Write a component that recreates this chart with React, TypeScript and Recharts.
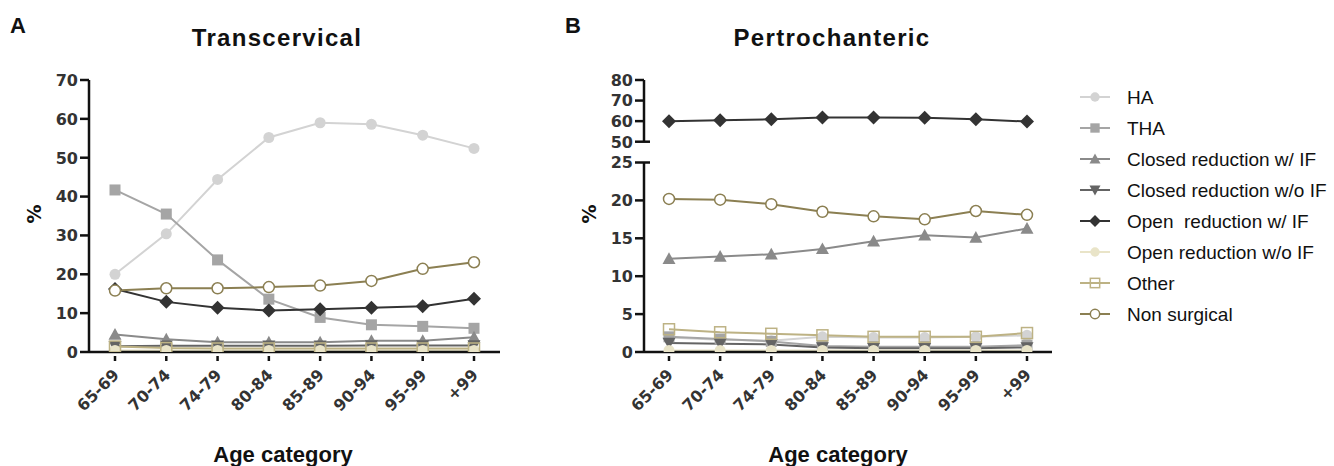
import React from 'react';
import { LineChart, Line, XAxis, YAxis } from 'recharts';

const categories = ['65-69', '70-74', '74-79', '80-84', '85-89', '90-94', '95-99', '+99'];

// Panel A – Transcervical (%)
const haA = [20.0, 30.4, 44.4, 55.2, 59.0, 58.6, 55.8, 52.4];
const thaA = [41.7, 35.5, 23.7, 13.6, 8.9, 7.0, 6.6, 6.1];
const crIfA = [4.5, 3.3, 2.5, 2.5, 2.5, 2.9, 2.9, 3.8];
const crNoIfA = [1.5, 1.6, 1.6, 1.6, 1.6, 1.7, 1.7, 1.7];
const orIfA = [16.2, 12.9, 11.4, 10.7, 11.0, 11.4, 11.8, 13.7];
const orNoIfA = [0.4, 0.4, 0.4, 0.4, 0.4, 0.4, 0.4, 0.4];
const otherA = [1.4, 1.0, 0.9, 0.9, 0.9, 0.9, 0.9, 0.9];
const nonSurgA = [15.8, 16.4, 16.4, 16.7, 17.1, 18.3, 21.4, 23.1];

// Panel B – Pertrochanteric (%)
const haB = [1.9, 1.6, 1.5, 2.0, 1.9, 1.9, 2.0, 2.2];
const thaB = [2.0, 1.7, 1.4, 0.8, 0.7, 0.7, 0.7, 0.9];
const crIfB = [12.3, 12.6, 12.9, 13.6, 14.6, 15.4, 15.1, 16.3];
const crNoIfB = [1.2, 1.1, 1.0, 0.6, 0.5, 0.5, 0.5, 0.6];
const orIfB = [60.0, 60.4, 60.9, 61.8, 61.8, 61.7, 60.9, 59.8];
const orNoIfB = [0.2, 0.2, 0.2, 0.2, 0.2, 0.2, 0.2, 0.2];
const otherB = [3.0, 2.6, 2.4, 2.2, 2.0, 2.0, 2.0, 2.5];
const nonSurgB = [20.2, 20.1, 19.5, 18.5, 17.9, 17.5, 18.6, 18.1];

const yTicksA = [0, 10, 20, 30, 40, 50, 60, 70];
const yTicksBTop = [50, 60, 70, 80];
const yTicksBBottom = [0, 5, 10, 15, 20, 25];

const seriesNames = [
  'HA',
  'THA',
  'Closed reduction w/ IF',
  'Closed reduction w/o IF',
  'Open  reduction w/ IF',
  'Open reduction w/o IF',
  'Other',
  'Non surgical',
];
const seriesKeys = ['ha', 'tha', 'crIf', 'crNoIf', 'orIf', 'orNoIf', 'other', 'nonSurg'];

const styles: Record<string, { color: string; shape: string; fill: string }> = {
  ha: { color: '#d3d3d3', shape: 'circle', fill: '#d3d3d3' },
  tha: { color: '#a5a5a5', shape: 'square', fill: '#a5a5a5' },
  crIf: { color: '#8a8a8a', shape: 'triUp', fill: '#8a8a8a' },
  crNoIf: { color: '#646464', shape: 'triDown', fill: '#646464' },
  orIf: { color: '#333333', shape: 'diamond', fill: '#333333' },
  orNoIf: { color: '#e9e4c8', shape: 'circle', fill: '#e9e4c8' },
  other: { color: '#bdb284', shape: 'square', fill: 'none' },
  nonSurg: { color: '#8b7f52', shape: 'circle', fill: '#ffffff' },
};

const build = (arrs: number[][]) =>
  categories.map((c, i) => {
    const row: Record<string, string | number> = { cat: c };
    seriesKeys.forEach((k, j) => {
      if (arrs[j]) row[k] = arrs[j][i];
    });
    return row;
  });

const dataA = build([haA, thaA, crIfA, crNoIfA, orIfA, orNoIfA, otherA, nonSurgA]);
const dataBBottom = build([haB, thaB, crIfB, crNoIfB, orIfB, orNoIfB, otherB, nonSurgB]);
const dataBTop = categories.map((c, i) => ({ cat: c, orIf: orIfB[i] }));

const BOLD_NUM = 'DejaVu Sans, sans-serif';
const ARIAL = 'Liberation Sans, Arial, sans-serif';

function Marker({ cx, cy, shape, color, fill, s = 1 }: any) {
  if (cx == null || cy == null || isNaN(cx) || isNaN(cy)) return null;
  const open = fill === 'none' || fill === '#ffffff';
  const sw = open ? 1.5 : 0;
  if (shape === 'circle') {
    return <circle cx={cx} cy={cy} r={5.5 * s} fill={fill} stroke={color} strokeWidth={sw} />;
  }
  if (shape === 'square') {
    const h = 5.5 * s;
    return <rect x={cx - h} y={cy - h} width={2 * h} height={2 * h} fill={fill} stroke={color} strokeWidth={sw} />;
  }
  if (shape === 'triUp') {
    const h = 6.5 * s;
    return <polygon points={`${cx},${cy - h} ${cx - h},${cy + h * 0.8} ${cx + h},${cy + h * 0.8}`} fill={fill} />;
  }
  if (shape === 'triDown') {
    const h = 6.5 * s;
    return <polygon points={`${cx},${cy + h} ${cx - h},${cy - h * 0.8} ${cx + h},${cy - h * 0.8}`} fill={fill} />;
  }
  const h = 7 * s;
  return <polygon points={`${cx},${cy - h} ${cx + h},${cy} ${cx},${cy + h} ${cx - h},${cy}`} fill={fill} />;
}

const makeDot = (key: string) => (props: any) => {
  const st = styles[key];
  return (
    <g key={`${key}-${props.index}`}>
      <Marker cx={props.cx} cy={props.cy} shape={st.shape} color={st.color} fill={st.fill} />
    </g>
  );
};

const XTick = (props: any) => {
  const { x, y, payload } = props;
  const ax = x + 5;
  const ay = y + 24;
  return (
    <g>
      <line x1={x} x2={x} y1={y + 4} y2={y + 9} stroke="#111" strokeWidth={2.5} />
      <text
        x={ax}
        y={ay}
        transform={`rotate(-45, ${ax}, ${ay})`}
        textAnchor="end"
        fontFamily={BOLD_NUM}
        fontWeight="bold"
        fontSize={16}
        fill="#333"
      >
        {payload.value}
      </text>
    </g>
  );
};

const makeYTick = (breakVal?: number) => (props: any) => {
  const { x, y, payload } = props;
  const isBreak = payload.value === breakVal;
  return (
    <g>
      <line x1={x - 9} x2={isBreak ? x + 6 : x} y1={y} y2={y} stroke="#111" strokeWidth={2.5} />
      <text x={x - 11} y={y} dy={5.8} textAnchor="end" fontFamily={BOLD_NUM} fontWeight="bold" fontSize={16} fill="#333">
        {payload.value}
      </text>
    </g>
  );
};

const axisLineStyle = { stroke: '#111', strokeWidth: 2.5 };

const renderLines = (keys: string[]) =>
  keys.map((k) => (
    <Line
      key={k}
      type="linear"
      dataKey={k}
      stroke={styles[k].color}
      strokeWidth={2}
      dot={makeDot(k)}
      activeDot={false}
      isAnimationActive={false}
    />
  ));

function Overlay() {
  const legendX = 1080;
  const legendY0 = 97;
  const step = 31;
  return (
    <svg width={1334} height={466} style={{ position: 'absolute', left: 0, top: 0 }}>
      <text x={10} y={33} fontFamily={ARIAL} fontWeight="bold" fontSize={22} fill="#111">A</text>
      <text x={565} y={33} fontFamily={ARIAL} fontWeight="bold" fontSize={22} fill="#111">B</text>
      <text x={277} y={46} textAnchor="middle" fontFamily={ARIAL} fontWeight="bold" fontSize={24} letterSpacing={1.3} fill="#111">
        Transcervical
      </text>
      <text x={832} y={46} textAnchor="middle" fontFamily={ARIAL} fontWeight="bold" fontSize={24} letterSpacing={1.3} fill="#111">
        Pertrochanteric
      </text>
      <text x={41} y={214} transform="rotate(-90, 41, 214)" textAnchor="middle" fontFamily={BOLD_NUM} fontWeight="bold" fontSize={19} fill="#111">
        %
      </text>
      <text x={596} y={214} transform="rotate(-90, 596, 214)" textAnchor="middle" fontFamily={BOLD_NUM} fontWeight="bold" fontSize={19} fill="#111">
        %
      </text>
      <text x={283} y={462} textAnchor="middle" fontFamily={ARIAL} fontWeight="bold" fontSize={22} fill="#111">
        Age category
      </text>
      <text x={838} y={462} textAnchor="middle" fontFamily={ARIAL} fontWeight="bold" fontSize={22} fill="#111">
        Age category
      </text>
      {seriesKeys.map((k, i) => {
        const cy = legendY0 + i * step;
        const st = styles[k];
        return (
          <g key={k}>
            <line x1={legendX} x2={legendX + 30} y1={cy} y2={cy} stroke={st.color} strokeWidth={2} />
            <Marker cx={legendX + 15} cy={cy} shape={st.shape} color={st.color} fill={st.fill} s={0.85} />
            <text x={1127} y={cy + 7} fontFamily={ARIAL} fontSize={19} fill="#111" style={{ whiteSpace: 'pre' }}>
              {seriesNames[i]}
            </text>
          </g>
        );
      })}
    </svg>
  );
}

export default function App() {
  return (
    <div style={{ position: 'absolute', left: 0, top: 0, width: 1334, height: 466, background: '#fff', overflow: 'hidden' }}>
      <Overlay />
      {/* Panel A */}
      <div style={{ position: 'absolute', left: 0, top: 0 }}>
        <LineChart width={520} height={466} data={dataA} margin={{ top: 80, right: 20, bottom: 0, left: 0 }}>
          <XAxis
            dataKey="cat"
            height={114}
            padding={{ left: 26, right: 26 }}
            axisLine={axisLineStyle}
            tickLine={false}
            tickSize={0}
            tickMargin={0}
            interval={0}
            tick={XTick}
          />
          <YAxis
            width={89}
            domain={[0, 70]}
            ticks={yTicksA}
            axisLine={axisLineStyle}
            tickLine={false}
            tickSize={0}
            tickMargin={0}
            interval={0}
            tick={makeYTick()}
            allowDataOverflow
          />
          {renderLines(seriesKeys)}
        </LineChart>
      </div>
      {/* Panel B – top segment */}
      <div style={{ position: 'absolute', left: 555, top: 0 }}>
        <LineChart width={497} height={150} data={dataBTop} margin={{ top: 80, right: 0, bottom: 8.3, left: 0 }}>
          <XAxis dataKey="cat" hide padding={{ left: 25, right: 25 }} />
          <YAxis
            width={89}
            domain={[50, 80]}
            ticks={yTicksBTop}
            axisLine={axisLineStyle}
            tickLine={false}
            tickSize={0}
            tickMargin={0}
            interval={0}
            tick={makeYTick(50)}
            allowDataOverflow
          />
          {renderLines(['orIf'])}
        </LineChart>
      </div>
      {/* Panel B – bottom segment */}
      <div style={{ position: 'absolute', left: 555, top: 0 }}>
        <LineChart width={497} height={466} data={dataBBottom} margin={{ top: 162.5, right: 0, bottom: 0, left: 0 }}>
          <XAxis
            dataKey="cat"
            height={114}
            padding={{ left: 25, right: 25 }}
            axisLine={axisLineStyle}
            tickLine={false}
            tickSize={0}
            tickMargin={0}
            interval={0}
            tick={XTick}
          />
          <YAxis
            width={89}
            domain={[0, 25]}
            ticks={yTicksBBottom}
            axisLine={axisLineStyle}
            tickLine={false}
            tickSize={0}
            tickMargin={0}
            interval={0}
            tick={makeYTick(25)}
            allowDataOverflow
          />
          {renderLines(['ha', 'tha', 'crIf', 'crNoIf', 'orNoIf', 'other', 'nonSurg'])}
        </LineChart>
      </div>
    </div>
  );
}
